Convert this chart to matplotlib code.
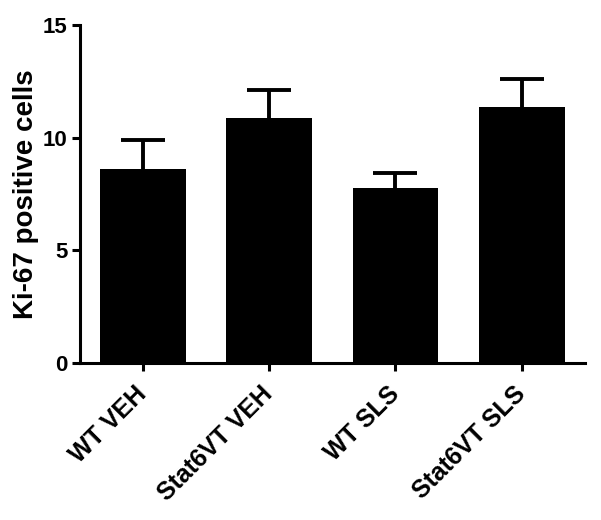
import matplotlib.pyplot as plt

groups = ['WT VEH', 'Stat6VT VEH', 'WT SLS', 'Stat6VT SLS']
means = [8.6, 10.85, 7.78, 11.37]
sem = [1.27, 1.24, 0.65, 1.25]

plt.rcParams['font.family'] = ['Liberation Sans', 'DejaVu Sans']
plt.rcParams['font.weight'] = 'bold'

fig = plt.figure(figsize=(6.01, 5.2), dpi=100)
ax = fig.add_axes([0.133, 0.3025, 0.84, 0.6495])

x = range(len(groups))
# error bars drawn behind the bars so only the upper half shows
ax.errorbar(x, means, yerr=sem, fmt='none', ecolor='black',
            elinewidth=2.8, capsize=15.5, capthick=2.8, zorder=1)
ax.bar(x, means, width=0.68, color='black', zorder=2)

ax.set_xlim(-0.5, 3.5)
ax.set_ylim(0, 15)
ax.set_yticks([0, 5, 10, 15])
ax.set_xticks(list(x))
ax.set_xticklabels(groups, rotation=45, ha='right', va='center', rotation_mode='anchor',
                   fontsize=18, fontweight='bold')
ax.tick_params(axis='y', labelsize=16, width=2.2, length=6, pad=3)
ax.tick_params(axis='x', width=2.2, length=6, pad=14)
for lbl in ax.get_yticklabels():
    lbl.set_fontweight('bold')
ax.set_ylabel('Ki-67 positive cells', fontsize=20, fontweight='bold', labelpad=3)

ax.spines['top'].set_visible(False)
ax.spines['right'].set_visible(False)
ax.spines['left'].set_linewidth(2.2)
ax.spines['bottom'].set_linewidth(2.2)

fig.savefig('out.png', dpi=100)
